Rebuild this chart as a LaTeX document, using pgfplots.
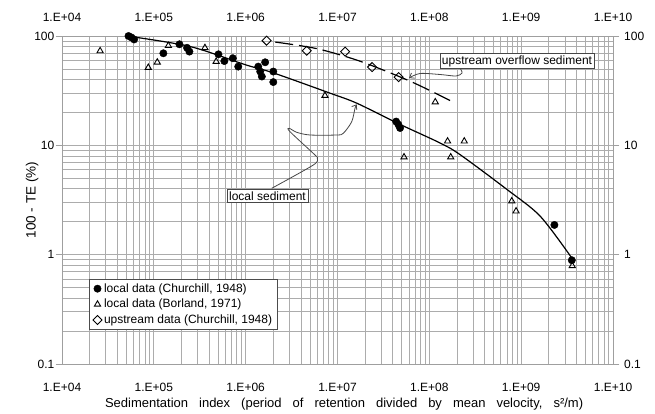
\documentclass[border=0pt]{standalone}
\usepackage{fontspec}
\setmainfont{Liberation Sans}
\usepackage{pgfplots}
\pgfplotsset{compat=1.18}
\usetikzlibrary{arrows.meta}

\begin{document}
\begin{tikzpicture}
\path[use as bounding box] (-62pt,-50pt) rectangle (593pt,364pt);
\begin{axis}[
  at={(0pt,0pt)}, anchor=south west,
  scale only axis, width=551pt, height=328pt,
  xmode=log, ymode=log,
  xmin=1e4, xmax=1e10, ymin=0.1, ymax=100,
  xtick={1e4,1e5,1e6,1e7,1e8,1e9,1e10},
  xticklabels={1.E+04,1.E+05,1.E+06,1.E+07,1.E+08,1.E+09,1.E+10},
  ytick={0.1,1,10,100}, yticklabels={0.1,1,10,100},
  minor xtick={2e4,3e4,4e4,5e4,6e4,7e4,8e4,9e4,2e5,3e5,4e5,5e5,6e5,7e5,8e5,9e5,2e6,3e6,4e6,5e6,6e6,7e6,8e6,9e6,2e7,3e7,4e7,5e7,6e7,7e7,8e7,9e7,2e8,3e8,4e8,5e8,6e8,7e8,8e8,9e8,2e9,3e9,4e9,5e9,6e9,7e9,8e9,9e9},
  minor ytick={0.2,0.3,0.4,0.5,0.6,0.7,0.8,0.9,2,3,4,5,6,7,8,9,20,30,40,50,60,70,80,90},
  grid=both,
  major grid style={gray!65, line width=0.7pt},
  minor grid style={gray!65, line width=0.7pt},
  axis line style={gray!75, line width=0.7pt},
  tick align=outside, major tick length=6.5pt, minor tick length=0pt,
  xtick style={draw=none}, ytick style={gray!75, line width=0.7pt},
  ticklabel style={font=\fontsize{12}{14}\selectfont},
  xticklabel style={anchor=center, yshift=-17pt},
  yticklabel style={anchor=east, inner sep=1pt},
  xlabel={\spaceskip=11pt Sedimentation index (period of retention divided by mean velocity, s²/m)},
  xlabel style={at={(axis description cs:0.512,-0.122)}, anchor=center, font=\fontsize{13}{15}\selectfont, inner sep=0pt},
  ylabel={100 - TE (\%)},
  ylabel style={at={(axis description cs:-0.0544,0.5)}, anchor=center, rotate=0, font=\fontsize{13.5}{15}\selectfont, inner sep=0pt},
  legend cell align=left,
  legend style={at={(0.0495,0.258)}, anchor=north west, draw=gray!60!black, fill=white, font=\fontsize{12}{14}\selectfont, inner xsep=3.5pt, inner ysep=2pt, row sep=1.5pt},
]
\addplot[black, line width=1.2pt, smooth, forget plot] coordinates {
(5.5e4,99) (2.5e5,80) (1e6,54.5) (2e6,46) (8.3e6,30) (1.62e7,24.3) (4.6e7,15.8) (1.31e8,10.5) (2.17e8,8.2) (7e8,3.95) (1.61e9,2.25) (3.5e9,0.95)};
\addplot[black, line width=1.2pt, smooth, dash pattern=on 18pt off 6pt, forget plot] coordinates {
(2.1e6,88) (5.96e6,76.6) (1.76e7,58.8) (6.18e7,38.6) (1.68e8,25.7)};
\addplot[only marks, mark=*, mark size=3.7pt, black] coordinates {
(5.3e4,100) (5.7e4,97) (6.1e4,93) (1.27e5,69.5) (1.9e5,84) (2.3e5,78) (2.44e5,72) (5.05e5,68) (5.86e5,59) (7.25e5,62.6) (8.3e5,52.5) (1.37e6,52.5) (1.63e6,57.5) (1.44e6,47.3) (1.5e6,42.6) (2.0e6,47.3) (2.0e6,37.9) (4.35e7,16.5) (4.6e7,15.5) (4.8e7,14.4) (2.3e9,1.87) (3.56e9,0.89)};
\addlegendentry{local data (Churchill, 1948)}
\addplot[only marks, mark=triangle, mark size=3.6pt, black, mark options={line width=0.9pt, fill=white}] coordinates {
(2.6e4,73) (8.7e4,51.4) (1.09e5,57.5) (1.44e5,81.6) (3.6e5,78) (4.77e5,58.4) (7.3e6,28.5) (5.3e7,7.8) (1.16e8,24.9) (1.58e8,10.9) (1.71e8,7.8) (2.4e8,10.9) (7.9e8,3.09) (8.8e8,2.5) (3.6e9,0.79)};
\addlegendentry{local data (Borland, 1971)}
\addplot[only marks, mark=square, mark size=3.2pt, black, mark options={rotate=45, line width=0.9pt, fill=white}] coordinates {
(1.69e6,90.6) (4.63e6,73.3) (1.21e7,72) (2.38e7,52) (4.63e7,42)};
\addlegendentry{upstream data (Churchill, 1948)}
\end{axis}
\begin{axis}[
  at={(0pt,0pt)}, anchor=south west,
  scale only axis, width=551pt, height=328pt,
  xmode=log, ymode=log,
  xmin=1e4, xmax=1e10, ymin=0.1, ymax=100,
  xtick={1e4,1e5,1e6,1e7,1e8,1e9,1e10},
  xticklabels={1.E+04,1.E+05,1.E+06,1.E+07,1.E+08,1.E+09,1.E+10},
  ytick={0.1,1,10,100}, yticklabels={0.1,1,10,100},
  minor xtick={}, minor ytick={},
  xticklabel pos=right, yticklabel pos=right,
  axis line style={draw=none}, tick style={draw=none},
  major tick length=0pt, minor tick length=0pt,
  ticklabel style={font=\fontsize{12}{14}\selectfont},
  xticklabel style={anchor=center, yshift=19pt},
  yticklabel style={anchor=west, inner sep=0pt, xshift=11pt},
]
\addplot[draw=none, forget plot] coordinates {(1e5,1)};
\end{axis}
\draw[gray!55!black, line width=0.8pt, -{Straight Barb[length=4pt,width=6pt]}] plot[smooth, tension=0.5] coordinates {(209.7pt,175.7pt) (251.3pt,199pt) (255.3pt,205.7pt) (253pt,209pt) (228pt,232.3pt) (227.3pt,235.7pt) (234.7pt,231.7pt) (248pt,229pt) (274.7pt,229pt) (281.3pt,230.7pt) (289.7pt,242.3pt) (293pt,255.7pt) (294.7pt,259.7pt)};
\draw[gray!55!black, line width=0.8pt, -{Straight Barb[length=4pt,width=6pt]}] plot[smooth, tension=0.5] coordinates {(398pt,296pt) (400pt,291pt) (394pt,288pt) (378pt,289.5pt) (358pt,290.5pt) (347pt,286pt)};
\node[draw=gray!55!black, fill=white, inner sep=2pt, font=\fontsize{12}{14}\selectfont] at (205.5pt,168pt) {local sediment};
\node[draw=gray!55!black, fill=white, inner sep=2pt, font=\fontsize{12}{14}\selectfont] at (455pt,303pt) {upstream overflow sediment};
\end{tikzpicture}
\end{document}
